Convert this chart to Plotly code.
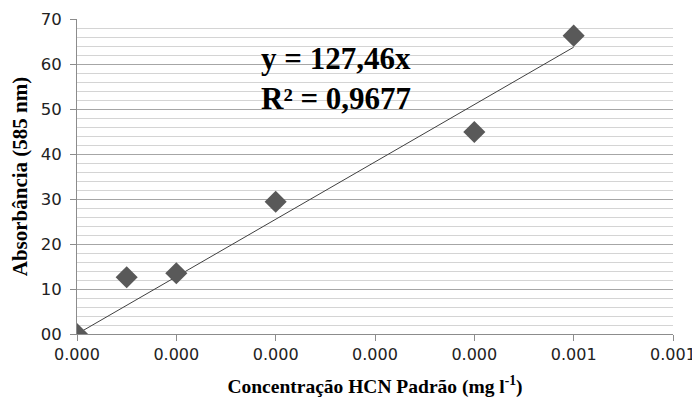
import plotly.graph_objects as go

# Data
conc = [0.0, 0.00005, 0.0001, 0.0002, 0.0004, 0.0005]
absorb = [0.0, 12.6, 13.5, 29.4, 44.9, 66.3]
eq_slope = 127.46          # slope as printed in equation
unit_factor = 1000         # x axis units vs equation units
r2_text = "0,9677"
x_tick_vals = [0.0, 0.0001, 0.0002, 0.0003, 0.0004, 0.0005, 0.0006]
x_tick_labels = ["0.000", "0.000", "0.000", "0.000", "0.000", "0.001", "0.001"]
y_tick_vals = [0, 10, 20, 30, 40, 50, 60, 70]
y_tick_labels = ["00", "10", "20", "30", "40", "50", "60", "70"]

trend_x = [0.0, max(conc)]
trend_y = [eq_slope * unit_factor * v for v in trend_x]

fig = go.Figure()
fig.add_trace(go.Scatter(x=trend_x, y=trend_y, mode="lines",
                         line=dict(color="#404040", width=1), showlegend=False))
fig.add_trace(go.Scatter(x=conc, y=absorb, mode="markers",
                         marker=dict(symbol="diamond", size=17, color="#595959"),
                         showlegend=False))

fig.add_annotation(text=f"<b>y = 127,46x<br>R² = {r2_text}</b>", xref="paper", yref="paper",
                   x=0.305, y=0.81, xanchor="left", yanchor="middle", showarrow=False, align="left",
                   font=dict(family="Liberation Serif", size=31, color="black"))

fig.update_layout(
    width=692, height=396, margin=dict(l=69, r=27, t=11, b=70),
    plot_bgcolor="white", paper_bgcolor="white",
    xaxis=dict(range=[0, 0.0006], tickvals=x_tick_vals, ticktext=x_tick_labels, automargin=False,
               showgrid=False, zeroline=False, showline=True, linecolor="#8c8c8c", linewidth=1,
               ticks="outside", ticklen=6, tickcolor="#8c8c8c",
               tickfont=dict(family="DejaVu Sans", size=16, color="#222"),
               title=dict(text="<b>Concentração HCN Padrão (mg l<sup>-1</sup>)</b>",
                          font=dict(family="Liberation Serif", size=19.5, color="black"), standoff=16)),
    yaxis=dict(range=[0, 70], tickvals=y_tick_vals, ticktext=y_tick_labels, automargin=False,
               showgrid=True, gridcolor="#a6a6a6", gridwidth=1, zeroline=False,
               showline=True, linecolor="#8c8c8c", linewidth=1,
               ticks="outside", ticklen=6, tickcolor="#8c8c8c", ticklabelstandoff=5,
               minor=dict(dtick=2, showgrid=True, gridcolor="#d4d4d4", gridwidth=1, ticks=""),
               tickfont=dict(family="DejaVu Sans", size=16.5, color="#222"),
               title=dict(text="<b>Absorbância (585 nm)</b>",
                          font=dict(family="Liberation Serif", size=21, color="black"), standoff=11)),
)

fig.write_html("out.html")
